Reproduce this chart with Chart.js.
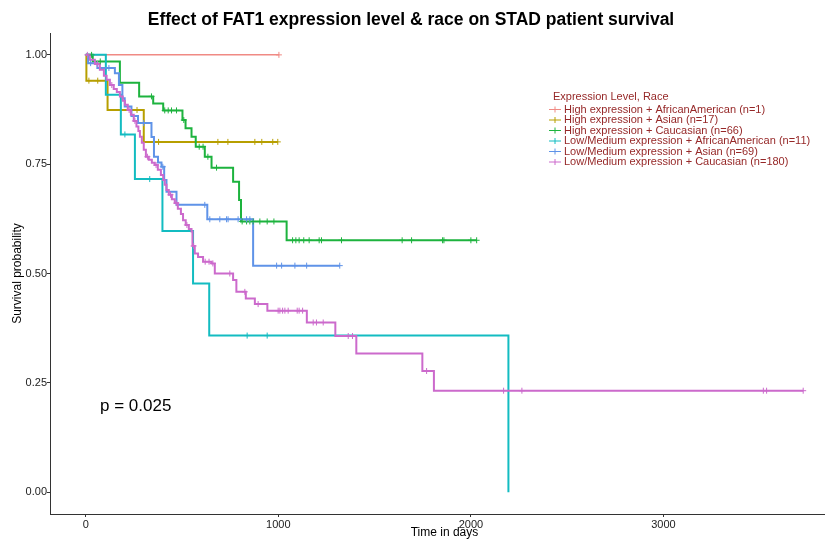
<!DOCTYPE html>
<html>
<head>
<meta charset="utf-8">
<script src="https://cdn.jsdelivr.net/npm/chart.js@4.4.1/dist/chart.umd.min.js"></script>
<style>
  html, body { margin: 0; padding: 0; overflow: hidden; background: #fff; }
  #wrap { position: relative; width: 845px; height: 540px; }
</style>
</head>
<body>
<div id="wrap"><canvas id="km-chart"></canvas></div>
<script>

var chart_title = 'Effect of FAT1 expression level & race on STAD patient survival';
var legend_title = 'Expression Level, Race';
var p_text = 'p = 0.025';
var x_ticks = [0, 1000, 2000, 3000];
var y_ticks = [0, 0.25, 0.5, 0.75, 1];

var group_labels = [
  'High expression + AfricanAmerican (n=1)',
  'High expression + Asian (n=17)',
  'High expression + Caucasian (n=66)',
  'Low/Medium expression + AfricanAmerican (n=11)',
  'Low/Medium expression + Asian (n=69)',
  'Low/Medium expression + Caucasian (n=180)'
];

// Kaplan-Meier steps (time in days, survival after that time) and censor times
var hi_aa_times = [0, 1003];
var hi_aa_surv  = [1, 1];
var hi_aa_cens  = [1003];

var hi_asian_times = [0, 3, 113, 301, 997];
var hi_asian_surv  = [1, 0.941, 0.874, 0.801, 0.801];
var hi_asian_cens  = [16, 62, 266, 378, 686, 738, 878, 914, 971, 997];

var hi_cauc_times = [0, 36, 177, 277, 350, 402, 502, 518, 549, 571, 618, 653, 765, 796, 806, 1043, 2030];
var hi_cauc_surv  = [1, 0.985, 0.936, 0.905, 0.889, 0.873, 0.851, 0.832, 0.813, 0.790, 0.767, 0.742, 0.710, 0.668, 0.619, 0.576, 0.576];
var hi_cauc_cens  = [30, 75, 341, 410, 428, 445, 471, 509, 589, 609, 634, 679, 812, 835, 852, 869, 904, 942, 977,
                     1074, 1091, 1108, 1132, 1160, 1212, 1224, 1328, 1643, 1692, 1853, 1860, 2000, 2030];

var lo_aa_times = [0, 104, 182, 255, 398, 557, 641, 2195];
var lo_aa_surv  = [1, 0.909, 0.818, 0.716, 0.597, 0.477, 0.358, 0];
var lo_aa_cens  = [203, 332, 838, 942];

var lo_asian_times = [0, 12, 60, 151, 172, 190, 202, 237, 271, 341, 354, 375, 393, 407, 419, 471, 631, 869, 1319];
var lo_asian_surv  = [1, 0.981, 0.970, 0.958, 0.931, 0.901, 0.882, 0.860, 0.844, 0.812, 0.767, 0.754, 0.744, 0.714, 0.687, 0.657, 0.624, 0.518, 0.518];
var lo_asian_cens  = [25, 120, 300, 400, 618, 644, 696, 731, 739, 791, 835, 852, 991, 1017, 1086, 1147, 1319];

var lo_cauc_times = [0, 21, 47, 73, 94, 108, 125, 145, 161, 177, 192, 203, 218, 234, 249, 263, 273, 281, 291, 301,
                     312, 327, 343, 358, 374, 390, 402, 410, 419, 431, 447, 462, 478, 494, 505, 519, 535, 549, 554, 566,
                     583, 609, 653, 670, 765, 782, 831, 878, 943, 1148, 1296, 1405, 1748, 1808, 3726];
var lo_cauc_surv  = [1, 0.989, 0.979, 0.966, 0.952, 0.943, 0.931, 0.922, 0.915, 0.905, 0.895, 0.886, 0.874, 0.863, 0.849, 0.836, 0.826, 0.813, 0.799, 0.783,
                     0.767, 0.760, 0.753, 0.748, 0.737, 0.725, 0.714, 0.703, 0.691, 0.680, 0.670, 0.661, 0.648, 0.636, 0.622, 0.611, 0.602, 0.596, 0.563, 0.546,
                     0.538, 0.527, 0.523, 0.500, 0.485, 0.458, 0.443, 0.430, 0.415, 0.388, 0.357, 0.317, 0.277, 0.232, 0.232];
var lo_cauc_cens  = [8, 60, 135, 225, 255, 320, 365, 440, 470, 525, 560, 620, 640, 660, 748, 826, 895,
                     999, 1008, 1022, 1034, 1051, 1098, 1108, 1126, 1181, 1198, 1233, 1363, 1385, 1770,
                     2170, 2265, 3519, 3536, 3726];

var groups = [
  [hi_aa_times, hi_aa_surv, hi_aa_cens],
  [hi_asian_times, hi_asian_surv, hi_asian_cens],
  [hi_cauc_times, hi_cauc_surv, hi_cauc_cens],
  [lo_aa_times, lo_aa_surv, lo_aa_cens],
  [lo_asian_times, lo_asian_surv, lo_asian_cens],
  [lo_cauc_times, lo_cauc_surv, lo_cauc_cens]
];

var line_colors = ['#F08A84', '#B79F00', '#1DB33E', '#13BCC1', '#5F93E8', '#CC6ACC'];
var font_family = "'Liberation Sans', Arial, Helvetica, sans-serif";
Chart.defaults.font.family = font_family;

// survival value of a step curve at time t
function surv_at(times, surv, t)
{
  var s = surv[0];
  for (var i = 0; i < times.length; i++)
  {
    if (times[i] <= t) s = surv[i];
  }
  return s;
}

var datasets = [];
for (var g = 0; g < groups.length; g++)
{
  var times = groups[g][0], surv = groups[g][1], cens = groups[g][2];
  datasets.push({
    type: 'line',
    label: group_labels[g],
    data: times.map(function (t, i) { return {x: t, y: surv[i]}; }),
    borderColor: line_colors[g],
    borderWidth: g === 0 ? 1.5 : 2,
    stepped: 'before',
    pointRadius: 0,
    fill: false,
    order: 20 - g,
    is_curve: true
  });
  datasets.push({
    type: 'scatter',
    label: '',
    data: cens.map(function (t) { return {x: t, y: surv_at(times, surv, t)}; }),
    pointStyle: 'cross',
    pointRadius: 3,
    borderColor: line_colors[g],
    borderWidth: 1,
    showLine: false,
    order: 10 - g
  });
}

var overlay_plugin = {
  id: 'overlay',
  afterDraw: function (chart) {
    var ctx = chart.ctx;
    ctx.save();

    ctx.fillStyle = '#000';
    ctx.font = 'bold 17.5px ' + font_family;
    ctx.textAlign = 'center';
    ctx.textBaseline = 'middle';
    ctx.fillText(chart_title, 411, 20);

    ctx.font = '17px ' + font_family;
    ctx.textAlign = 'left';
    ctx.textBaseline = 'alphabetic';
    ctx.fillText(p_text, 100, 411);

    // legend
    ctx.textBaseline = 'middle';
    ctx.font = '11px ' + font_family;
    ctx.fillStyle = '#962828';
    ctx.fillText(legend_title, 553, 97);
    var curves = chart.data.datasets.filter(function (d) { return d.is_curve; });
    for (var i = 0; i < curves.length; i++)
    {
      var y = 109.5 + i * 10.5;
      ctx.strokeStyle = curves[i].borderColor;
      ctx.lineWidth = 1;
      ctx.beginPath();
      ctx.moveTo(549, y);
      ctx.lineTo(561, y);
      ctx.moveTo(555, y - 3);
      ctx.lineTo(555, y + 3);
      ctx.stroke();
      ctx.fillStyle = '#962828';
      ctx.fillText(curves[i].label, 564, y);
    }
    ctx.restore();
  }
};

var km_chart = new Chart(document.getElementById('km-chart'), {
  type: 'line',
  data: { datasets: datasets },
  options: {
    animation: false,
    responsive: true,
    maintainAspectRatio: false,
    layout: { padding: { top: 33, right: 6, left: 0, bottom: 0 } },
    plugins: {
      legend: { display: false },
      tooltip: { enabled: false }
    },
    scales: {
      x: {
        type: 'linear',
        min: -186,
        max: 3912,
        afterBuildTicks: function (s) { s.ticks = x_ticks.map(function (v) { return {value: v}; }); },
        afterFit: function (s) { s.height = 26; },
        grid: { drawOnChartArea: false, drawTicks: true, tickLength: 3, color: '#333' },
        border: { display: true, color: '#333', width: 1 },
        ticks: { color: '#222', font: { size: 11 }, padding: 1, maxRotation: 0,
                 callback: function (v) { return String(v); } },
        title: { display: true, text: 'Time in days', color: '#000', font: { size: 12 }, padding: 0 }
      },
      y: {
        type: 'linear',
        min: -0.05,
        max: 1.05,
        afterBuildTicks: function (s) { s.ticks = y_ticks.map(function (v) { return {value: v}; }); },
        afterFit: function (s) { s.width = 50; },
        grid: { drawOnChartArea: false, drawTicks: true, tickLength: 3, color: '#333' },
        border: { display: true, color: '#333', width: 1 },
        ticks: { color: '#222', font: { size: 11 }, padding: 0,
                 callback: function (v) { return v.toFixed(2); } },
        title: { display: true, text: 'Survival probability', color: '#000', font: { size: 12 }, padding: { top: 10, bottom: 0 } }
      }
    }
  },
  plugins: [overlay_plugin]
});
</script>
</body>
</html>
